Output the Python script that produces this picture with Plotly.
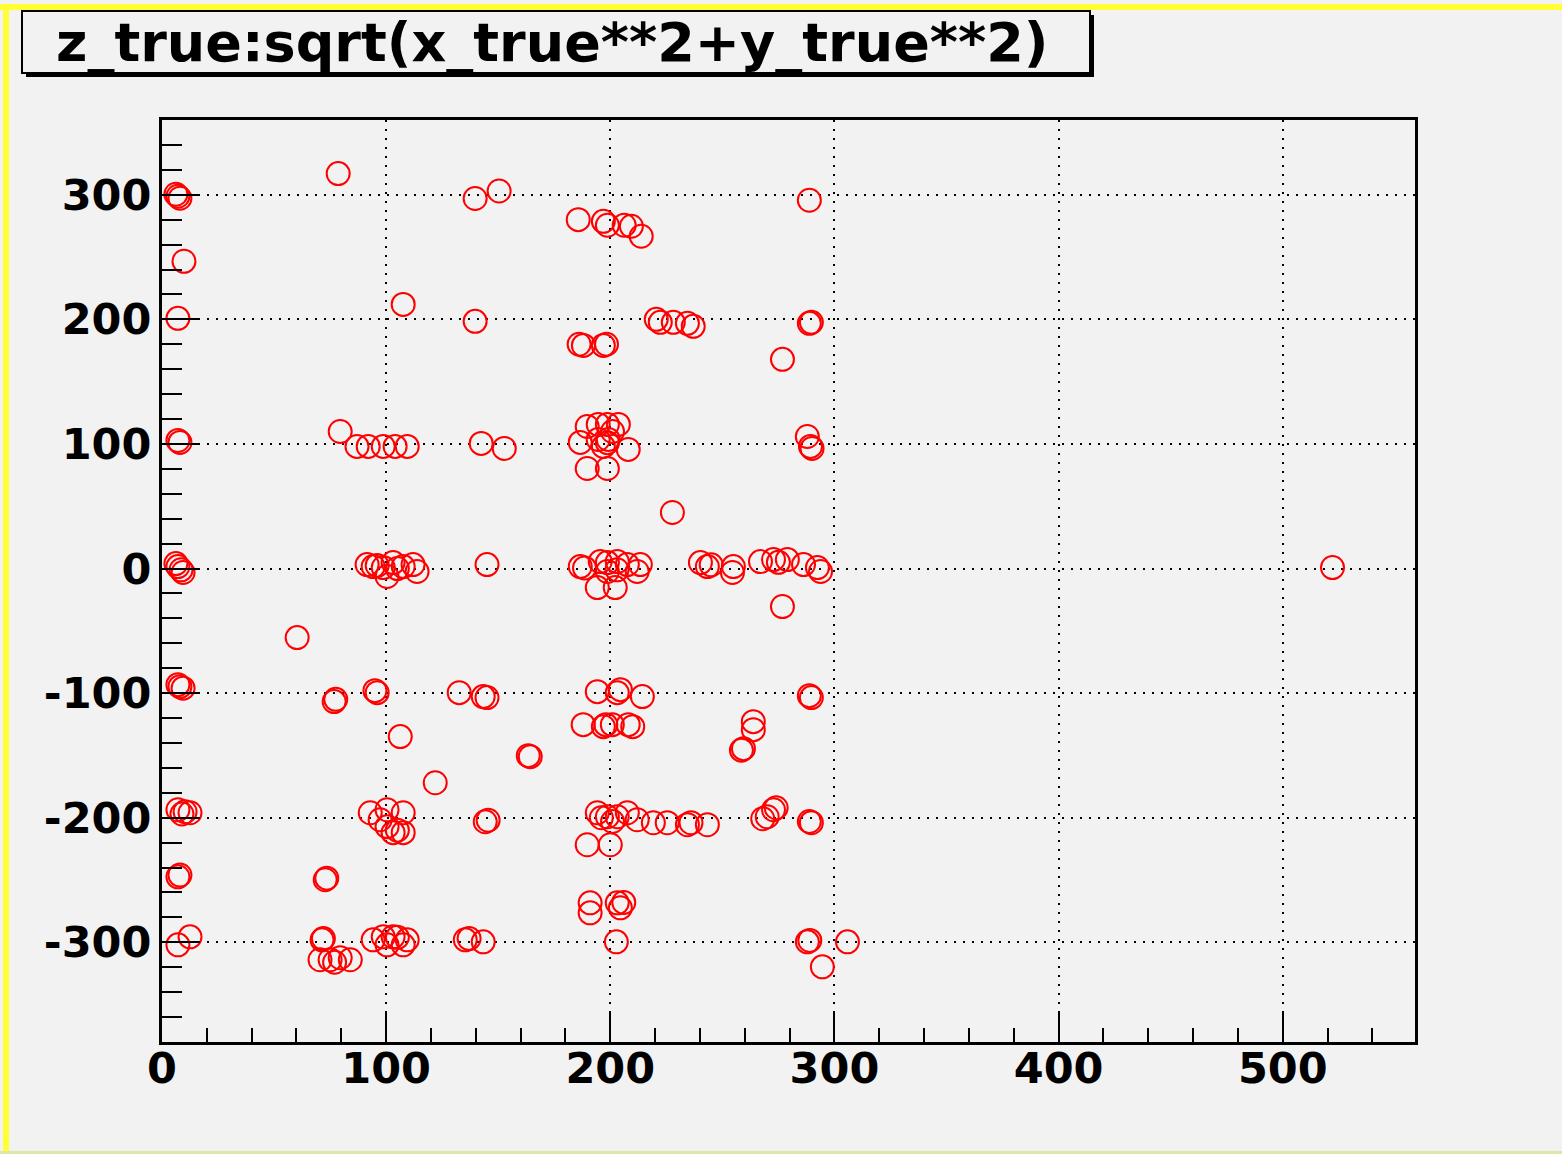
import plotly.graph_objects as go

# ---- data: sqrt(x_true**2+y_true**2) (x) vs z_true (y) ----
r_vals = [
    7.1, 6.2, 8.0, 78.6, 9.8, 139.7, 150.4, 107.6, 7.1, 139.7, 288.8,
    185.7, 196.9, 198.7, 206.2, 209.4, 213.8,
    220.5, 222.3, 228.1, 234.4, 237.0, 288.8, 289.7,
    186.1, 188.0, 196.9, 198.3, 276.8,
    7.1, 8.0, 79.5, 87.0, 92.0, 98.7, 104.0, 109.4, 142.4, 152.7,
    189.7, 194.6, 198.7, 203.6, 186.6, 196.9, 198.7, 208.0, 189.7, 198.7, 194.6, 199.1, 201.0,
    287.9, 289.3, 290.0, 227.7,
    7.1, 6.2, 8.5, 9.4,
    91.5, 94.2, 98.7, 103.1, 107.6, 112.0, 113.8, 100.4, 96.0, 105.0,
    145.0, 60.3,
    186.6, 188.5, 195.5, 198.7, 203.1, 207.6, 213.4, 198.7, 194.2, 202.2, 212.0, 203.0,
    240.2, 243.3, 245.0, 254.9, 254.5, 267.0, 272.8, 279.0, 275.0, 286.2, 292.4, 293.8,
    276.8, 522.2,
    8.0, 7.1, 9.4, 76.8, 77.5, 96.0, 95.0, 132.6, 143.3, 145.0,
    106.3, 163.4, 164.3, 121.9,
    194.2, 204.5, 203.1, 214.3,
    187.9, 196.9, 200.9, 208.0, 210.0, 198.0,
    288.8, 289.7, 263.8, 263.8, 259.4, 258.5,
    7.1, 10.3, 12.5, 8.9,
    92.9, 100.4, 107.6, 97.3, 103.1, 107.6, 100.4, 105.0,
    144.2, 145.5,
    194.2, 198.7, 203.1, 207.6, 212.0, 219.2, 225.4, 234.4, 236.0, 243.3, 196.0, 201.0,
    268.0, 270.0, 272.8, 274.0, 289.7, 288.8, 189.7, 200.0,
    7.1, 8.0, 72.8, 73.5, 7.1, 12.5, 71.4, 72.0,
    70.5, 75.0, 79.5, 84.0, 77.0,
    94.2, 98.7, 103.1, 107.6, 100.4, 109.4, 105.0,
    135.3, 143.3, 137.0,
    191.0, 191.0, 203.1, 204.5, 206.0,
    202.7, 287.9, 289.0, 305.8, 294.6,
]
z_vals = [
    298.8, 300.4, 297.2, 317.0, 246.6, 297.0, 303.0, 212.0, 200.8, 198.4, 295.6,
    280.0, 278.7, 275.5, 275.5, 274.7, 266.7,
    200.0, 197.6, 197.6, 196.8, 194.4, 196.8, 197.6,
    180.0, 179.1, 179.1, 180.0, 167.9,
    102.8, 101.2, 110.0, 98.0, 98.0, 98.0, 98.0, 98.0, 100.4, 96.4,
    114.0, 115.7, 115.7, 115.7, 101.2, 98.0, 101.0, 95.6, 80.3, 80.3, 103.6, 103.6, 110.0,
    106.0, 98.0, 96.4, 45.0,
    1.6, 4.0, -1.0, -3.2,
    3.2, 1.6, 0.8, 4.8, 1.6, 3.2, -2.4, -6.4, 2.5, 0.0,
    3.2, -55.4,
    1.6, 0.5, 5.6, 4.8, 5.6, 3.2, 3.2, -2.4, -15.3, -15.3, -2.4, -1.0,
    4.8, 1.6, 3.0, 1.6, -3.2, 5.6, 7.2, 7.2, 5.0, 3.2, 0.8, -2.4,
    -30.5, 0.8,
    -94.8, -93.2, -96.0, -106.8, -105.0, -99.6, -98.0, -99.6, -102.8, -103.6,
    -134.9, -150.2, -151.0, -171.9,
    -98.8, -97.2, -99.6, -102.8,
    -125.3, -126.9, -125.3, -125.3, -126.9, -125.3,
    -102.0, -103.6, -122.9, -129.3, -144.6, -145.8,
    -193.6, -195.2, -196.0, -197.0,
    -196.0, -193.6, -196.0, -201.6, -212.0, -212.0, -207.2, -210.0,
    -203.2, -202.0,
    -196.0, -199.2, -199.2, -196.0, -201.6, -204.0, -204.0, -205.6, -204.0, -205.6, -200.0, -203.0,
    -200.8, -199.2, -193.6, -192.0, -204.0, -203.0, -221.7, -221.7,
    -247.4, -246.0, -249.8, -248.5, -302.0, -295.6, -298.0, -297.0,
    -314.0, -314.0, -312.4, -314.0, -316.0,
    -298.0, -295.6, -295.6, -302.0, -302.0, -298.0, -296.0,
    -298.0, -299.6, -297.0,
    -268.3, -276.3, -268.3, -272.3, -268.0,
    -299.6, -299.6, -298.5, -299.6, -319.7,
]
x_ticks = [0, 100, 200, 300, 400, 500]
x_tick_labels = ["0", "100", "200", "300", "400", "500"]
y_ticks = [-300, -200, -100, 0, 100, 200, 300]
y_tick_labels = ["-300", "-200", "-100", "0", "100", "200", "300"]
title_text = "z_true:sqrt(x_true**2+y_true**2)"

W, H = 1562, 1154
L, R, T, B = 162, 1415, 120, 1042
BG = "#f2f2f2"
FONT = "DejaVu Sans"


def px(xpix):
    return (xpix - L) / (R - L)


def py(ypix):
    return (B - ypix) / (B - T)


fig = go.Figure(
    go.Scatter(
        x=r_vals, y=z_vals, mode="markers",
        marker=dict(symbol="circle-open", size=23, color="#ff0000",
                    line=dict(color="#ff0000", width=2)),
        showlegend=False,
    )
)

axis_common = dict(
    showline=True, linecolor="black", linewidth=3, mirror=True,
    showgrid=True, gridcolor="black", gridwidth=2, griddash="2px,7px",
    zeroline=False, ticks="inside", tickcolor="black", tickwidth=2,
    tickfont=dict(family=FONT, size=43, color="black", weight="bold"),
)

fig.update_xaxes(
    range=[0, 559], tickvals=x_ticks, ticktext=x_tick_labels, ticklen=29,
    minor=dict(dtick=20, tick0=0, ticklen=14, ticks="inside", tickcolor="black",
               tickwidth=2, showgrid=False),
    ticklabelstandoff=-14,
    **axis_common,
)
fig.update_yaxes(
    range=[-380, 360], tickvals=y_ticks, ticktext=y_tick_labels, ticklen=38,
    minor=dict(dtick=20, tick0=0, ticklen=20, ticks="inside", tickcolor="black",
               tickwidth=2, showgrid=False),
    ticklabelstandoff=-1,
    **axis_common,
)

shapes = [
    # yellow canvas border (top, left, bottom)
    dict(type="rect", xref="paper", yref="paper", x0=px(0), x1=px(W), y0=py(10), y1=py(4),
         fillcolor="#ffff33", line=dict(width=0), layer="above"),
    dict(type="rect", xref="paper", yref="paper", x0=px(3), x1=px(9), y0=py(1153), y1=py(4),
         fillcolor="#ffff33", line=dict(width=0), layer="above"),
    dict(type="rect", xref="paper", yref="paper", x0=px(0), x1=px(W), y0=py(1154), y1=py(1151),
         fillcolor="#dfe6a8", line=dict(width=0), layer="above"),
    # title box shadow and box
    dict(type="rect", xref="paper", yref="paper", x0=px(26), x1=px(1094), y0=py(77), y1=py(15),
         fillcolor="black", line=dict(width=0), layer="above"),
    dict(type="rect", xref="paper", yref="paper", x0=px(22), x1=px(1090), y0=py(73), y1=py(11),
         fillcolor=BG, line=dict(color="black", width=2), layer="above"),
]

fig.update_layout(
    width=W, height=H,
    margin=dict(l=L, r=W - R, t=T, b=H - B, pad=0),
    paper_bgcolor=BG, plot_bgcolor=BG,
    shapes=shapes,
    annotations=[dict(
        text=title_text, xref="paper", yref="paper", x=px(552), y=py(43),
        xanchor="center", yanchor="middle", showarrow=False,
        font=dict(family=FONT, size=54, color="black", weight="bold"),
    )],
)

fig.write_html("out.html")
